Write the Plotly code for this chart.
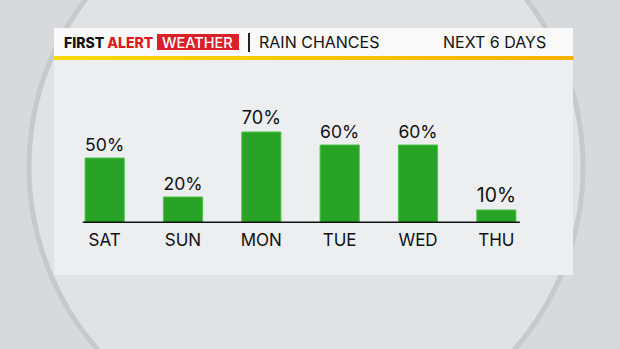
import plotly.graph_objects as go

days = ["SAT", "SUN", "MON", "TUE", "WED", "THU"]
rain_chance = [50, 20, 70, 60, 60, 10]

W, H = 620, 349
FONT = "Inter"

def px(x):
    return x / W

def py(y):
    return 1 - y / H

fig = go.Figure()
fig.add_trace(go.Bar(
    x=list(range(len(days))),
    y=rain_chance,
    width=0.5,
    marker=dict(color="#29a325", line=dict(color="#4cc446", width=1)),
    texttemplate="%{y}%",
    textposition="outside",
    textfont=dict(family=FONT, size=20, color="#111111"),
    cliponaxis=False,
    hoverinfo="skip",
))

shapes = []
# big background circle
shapes.append(dict(type="circle", xref="paper", yref="paper", layer="below",
                   x0=px(306 - 277), x1=px(306 + 277), y0=py(167 + 277), y1=py(167 - 277),
                   fillcolor="#dfe3e5", line=dict(color="#c7cacc", width=5)))
# panel body
shapes.append(dict(type="rect", xref="paper", yref="paper", layer="below",
                   x0=px(54), x1=px(573), y0=py(275), y1=py(56),
                   fillcolor="#eceef0", line=dict(width=0)))
# header
shapes.append(dict(type="rect", xref="paper", yref="paper", layer="below",
                   x0=px(54), x1=px(573), y0=py(56), y1=py(28),
                   fillcolor="#f9f9f9", line=dict(width=0)))
# gradient line yellow->orange
n = 40
c0 = (247, 217, 10)
c1 = (246, 178, 0)
for i in range(n):
    t = i / (n - 1)
    col = tuple(int(round(c0[k] + (c1[k] - c0[k]) * t)) for k in range(3))
    xa = 54 + (573 - 54) * i / n
    xb = 54 + (573 - 54) * (i + 1) / n
    shapes.append(dict(type="rect", xref="paper", yref="paper", layer="below",
                       x0=px(xa), x1=px(xb) + 0.001, y0=py(60), y1=py(56),
                       fillcolor="rgb(%d,%d,%d)" % col, line=dict(width=0)))
# red WEATHER box
shapes.append(dict(type="rect", xref="paper", yref="paper", layer="below",
                   x0=px(157), x1=px(239), y0=py(50), y1=py(34),
                   fillcolor="#d9202a", line=dict(width=0)))
# separator
shapes.append(dict(type="line", xref="paper", yref="paper",
                   x0=px(249), x1=px(249), y0=py(52), y1=py(33),
                   line=dict(color="#222222", width=2)))
# baseline
shapes.append(dict(type="line", xref="x", yref="y", layer="above",
                   x0=-0.28, x1=5.3, y0=0, y1=0,
                   line=dict(color="#111111", width=3)))

annotations = [
    dict(text="FIRST <span style='color:#e0191f'>ALERT</span>",
         xref="paper", yref="paper", x=px(62), y=py(42.5), xanchor="left", yanchor="middle",
         showarrow=False, font=dict(family=FONT, size=14, color="#111111", weight=800)),
    dict(text="WEATHER", xref="paper", yref="paper", x=px(197.5), y=py(42.5),
         xanchor="center", yanchor="middle", showarrow=False,
         font=dict(family=FONT, size=14.5, color="#ffffff", weight=500)),
    dict(text="RAIN CHANCES", xref="paper", yref="paper", x=px(257), y=py(42.5),
         xanchor="left", yanchor="middle", showarrow=False,
         font=dict(family=FONT, size=16, color="#111111")),
    dict(text="NEXT 6 DAYS", xref="paper", yref="paper", x=px(548), y=py(42.5),
         xanchor="right", yanchor="middle", showarrow=False,
         font=dict(family=FONT, size=16, color="#111111")),
]

fig.update_layout(
    width=W, height=H,
    margin=dict(l=0, r=0, t=0, b=0),
    paper_bgcolor="#d6dadc",
    plot_bgcolor="rgba(0,0,0,0)",
    showlegend=False,
    shapes=shapes,
    annotations=annotations,
    xaxis=dict(domain=[px(65.5), px(535.5)], range=[-0.5, 5.5],
               tickmode="array", tickvals=list(range(len(days))), ticktext=days,
               showgrid=False, zeroline=False, showline=False, ticks="",
               ticklabelstandoff=5,
               tickfont=dict(family=FONT, size=17, color="#111111")),
    yaxis=dict(domain=[py(223), py(93)], range=[0, 100],
               showgrid=False, zeroline=False, showline=False, showticklabels=False),
)

fig.write_html("out.html")
